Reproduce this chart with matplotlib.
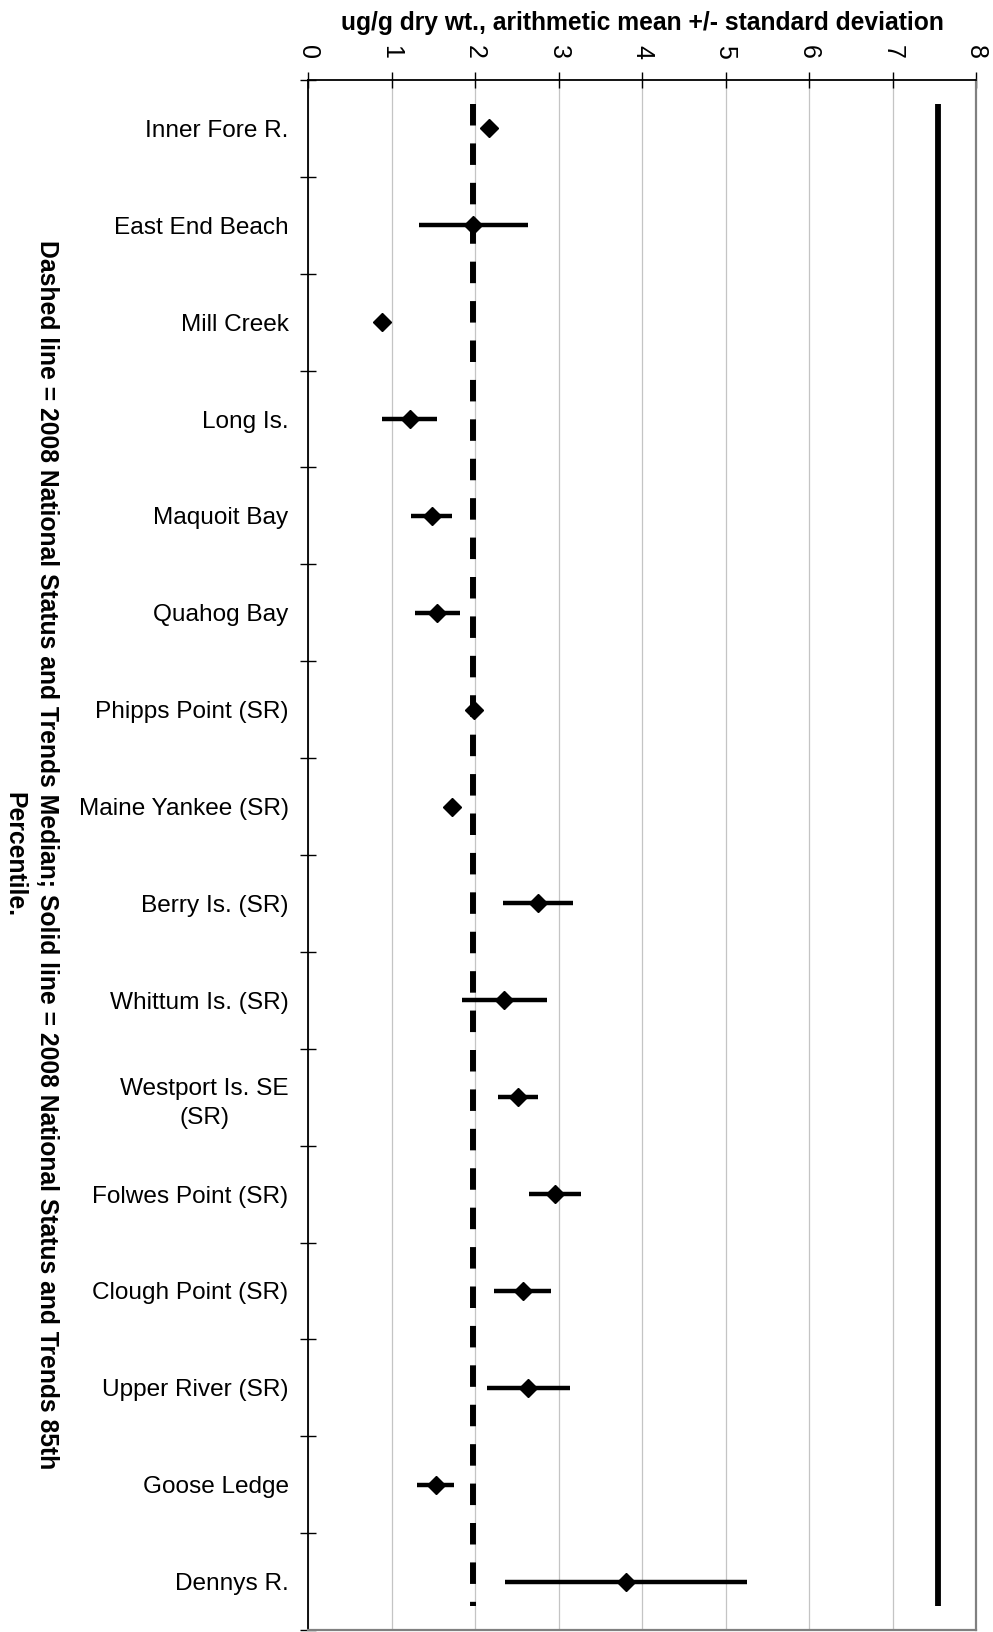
import numpy as np
import matplotlib.pyplot as plt

plt.rcParams['font.family'] = ['Liberation Sans', 'DejaVu Sans']

# sampling sites, top to bottom
sites = ["Inner Fore R.", "East End Beach", "Mill Creek", "Long Is.", "Maquoit Bay",
         "Quahog Bay", "Phipps Point (SR)", "Maine Yankee (SR)", "Berry Is. (SR)",
         "Whittum Is. (SR)", "Westport Is. SE\n(SR)", "Folwes Point (SR)",
         "Clough Point (SR)", "Upper River (SR)", "Goose Ledge", "Dennys R."]
# ug/g dry wt., mean and standard deviation
means = [2.17, 1.98, 0.89, 1.22, 1.48, 1.55, 1.99, 1.72, 2.75, 2.35, 2.52, 2.96,
         2.57, 2.64, 1.53, 3.81]
sds = [0.0, 0.65, 0.0, 0.33, 0.25, 0.27, 0.0, 0.0, 0.42, 0.51, 0.24, 0.31,
       0.34, 0.50, 0.22, 1.45]
# 2008 National Status and Trends reference values
nst_median = 1.98
nst_85th = 7.55

x_ticks = list(range(9))

fig = plt.figure(figsize=(9.93, 16.32), dpi=100)
ax = fig.add_axes([0.3102, 0.0012, 0.6727, 0.9498])

y = np.arange(len(sites))

ax.errorbar(means, y, xerr=sds, fmt='D', color='black', ms=9.5, elinewidth=3.2,
            capsize=0, zorder=4)

# reference lines
ax.vlines(nst_median, y[0] - 0.25, y[-1] + 0.25, colors='black', lw=4.3,
          linestyles=(0, (3.6, 3.0)), zorder=3)
ax.vlines(nst_85th, y[0] - 0.25, y[-1] + 0.25, colors='black', lw=4.2, zorder=3)

ax.set_xlim(0, 8)
ax.set_ylim(len(sites) - 0.5, -0.5)

ax.xaxis.tick_top()
ax.set_xticks(x_ticks)
ax.set_xticklabels([str(t) for t in x_ticks], rotation=-90)
ax.tick_params(axis='x', direction='inout', length=12, width=1, labelsize=18, pad=9)
ax.grid(axis='x', color='#c4c4c4', lw=0.9, zorder=0)

ax.set_yticks(y)
ax.set_yticklabels(sites)
for t in ax.get_yticklabels():
    t.set_multialignment('center')
    t.set_linespacing(1.45)
ax.tick_params(axis='y', which='major', length=0, pad=14, labelsize=17.6)
ax.set_yticks(np.arange(-0.5, len(sites), 1), minor=True)
ax.tick_params(axis='y', which='minor', direction='inout', length=12, width=1)

for side in ['left', 'top']:
    ax.spines[side].set_color('black')
    ax.spines[side].set_linewidth(1.3)
for side in ['right', 'bottom']:
    ax.spines[side].set_color('#808080')
    ax.spines[side].set_linewidth(1.6)

ax.xaxis.set_label_position('top')
ax.set_xlabel('ug/g dry wt., arithmetic mean +/- standard deviation', fontsize=17.7,
              fontweight='bold', labelpad=11)

fig.text(31 / 993, 1 - 855 / 1632,
         'Dashed line = 2008 National Status and Trends Median; Solid line = 2008 '
         'National Status and Trends 85th\nPercentile.',
         rotation=-90, ha='center', va='center', multialignment='center',
         fontsize=17.8, fontweight='bold', linespacing=1.45)

fig.savefig('out.png', dpi=100)
